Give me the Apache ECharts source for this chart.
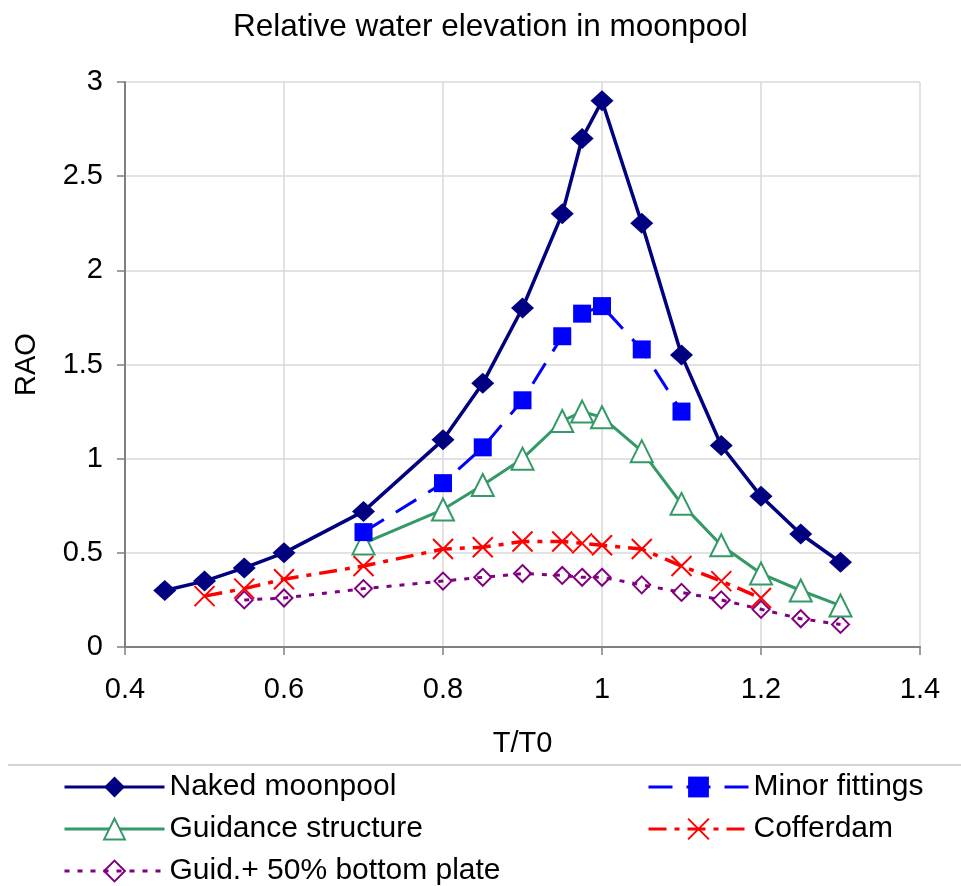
<!DOCTYPE html>
<html>
<head>
<meta charset="utf-8">
<script src="https://cdn.jsdelivr.net/npm/echarts@6/dist/echarts.min.js"></script>
<style>html,body{margin:0;padding:0;background:#fff;}#c{width:961px;height:886px;}</style>
</head>
<body>
<div id="c"></div>
<script>
const xNaked = [0.45,0.5,0.55,0.6,0.7,0.8,0.85,0.9,0.95,0.975,1.0,1.05,1.1,1.15,1.2,1.25,1.3];
const yNaked = [0.30,0.35,0.42,0.50,0.72,1.10,1.40,1.80,2.30,2.70,2.90,2.25,1.55,1.07,0.80,0.60,0.45];
const xMinor = [0.7,0.8,0.85,0.9,0.95,0.975,1.0,1.05,1.1];
const yMinor = [0.61,0.87,1.06,1.31,1.65,1.77,1.81,1.58,1.25];
const xGuid = [0.7,0.8,0.85,0.9,0.95,0.975,1.0,1.05,1.1,1.15,1.2,1.25,1.3];
const yGuid = [0.55,0.73,0.86,1.00,1.20,1.25,1.22,1.04,0.76,0.54,0.39,0.30,0.22];
const xCoff = [0.5,0.55,0.6,0.7,0.8,0.85,0.9,0.95,0.975,1.0,1.05,1.1,1.15,1.2];
const yCoff = [0.27,0.31,0.36,0.43,0.52,0.53,0.56,0.56,0.55,0.54,0.52,0.43,0.35,0.26];
const xGuid50 = [0.55,0.6,0.7,0.8,0.85,0.9,0.95,0.975,1.0,1.05,1.1,1.15,1.2,1.25,1.3];
const yGuid50 = [0.25,0.26,0.31,0.35,0.37,0.39,0.38,0.37,0.37,0.33,0.29,0.25,0.20,0.15,0.12];
const seriesNames = ['Naked moonpool','Minor fittings','Guidance structure','Cofferdam','Guid.+ 50% bottom plate'];
const xTicks = {min:0.4, max:1.4, interval:0.2};
const yTicks = {min:0, max:3, interval:0.5};

const zip = (xs, ys) => xs.map((x, i) => [x, ys[i]]);
const FONT = '"Liberation Sans", Arial, sans-serif';

const chart = echarts.init(document.getElementById('c'), null, {renderer:'canvas'});
const legendPos = [
  {left:63, top:772},
  {left:647, top:772},
  {left:63, top:814},
  {left:647, top:814},
  {left:63, top:856}
];
const option = {
  backgroundColor:'#fff',
  animation:false,
  title:{text:'Relative water elevation in moonpool', left:228, top:6,
    textStyle:{fontFamily:FONT, fontSize:31.5, fontWeight:'normal', color:'#000'}},
  legend: seriesNames.map((n,i)=>({
    data:[n], left:legendPos[i].left, top:legendPos[i].top, padding:0,
    itemWidth:100, itemHeight:26, itemGap:0,
    lineStyle:{width:3},
    textStyle:{fontFamily:FONT, fontSize:30, color:'#000'}
  })),
  graphic:[{type:'line', shape:{x1:8,y1:765,x2:961,y2:765}, style:{stroke:'#d4d4d4', lineWidth:2}}],
  grid:{left:125, right:41, top:82, bottom:239, containLabel:false},
  xAxis:{type:'value', min:xTicks.min, max:xTicks.max, interval:xTicks.interval,
    name:'T/T0', nameLocation:'middle', nameGap:82,
    nameTextStyle:{fontFamily:FONT, fontSize:29, color:'#000'},
    axisLine:{show:true, onZero:false, lineStyle:{color:'#808080', width:2}},
    axisTick:{show:true, length:8, lineStyle:{color:'#808080', width:1.5}},
    axisLabel:{margin:28, fontFamily:FONT, fontSize:29, color:'#000'},
    splitLine:{show:true, lineStyle:{color:'#d9d9d9', width:1.5}}},
  yAxis:{type:'value', min:yTicks.min, max:yTicks.max, interval:yTicks.interval,
    name:'RAO', nameLocation:'middle', nameGap:84, nameRotate:90,
    nameTextStyle:{fontFamily:FONT, fontSize:29, color:'#000'},
    axisLine:{show:true, lineStyle:{color:'#808080', width:2}},
    axisTick:{show:true, length:8, lineStyle:{color:'#808080', width:1.5}},
    axisLabel:{margin:22, fontFamily:FONT, fontSize:29, color:'#000'},
    splitLine:{show:true, lineStyle:{color:'#d9d9d9', width:1.5}}},
  series:[
    {name:seriesNames[4], type:'line', data:zip(xGuid50,yGuid50), symbol:'diamond', symbolSize:17,
      lineStyle:{color:'#800080', width:3, type:[5,8]},
      itemStyle:{color:'rgba(255,255,255,0)', borderColor:'#800080', borderWidth:2}},
    {name:seriesNames[3], type:'line', data:zip(xCoff,yCoff), symbol:'path://M0,0L10,10M10,0L0,10', symbolSize:20,
      lineStyle:{color:'#ff0000', width:3.5, type:[18,8,5,8]},
      itemStyle:{color:'rgba(255,255,255,0)', borderColor:'#ff0000', borderWidth:2}},
    {name:seriesNames[2], type:'line', data:zip(xGuid,yGuid), symbol:'triangle', symbolSize:22,
      lineStyle:{color:'#339966', width:3},
      itemStyle:{color:'#fff', borderColor:'#339966', borderWidth:2}},
    {name:seriesNames[1], type:'line', data:zip(xMinor,yMinor), symbol:'rect', symbolSize:18,
      lineStyle:{color:'#0000ff', width:3, type:[24,14]},
      itemStyle:{color:'#0000ff', borderColor:'#0000ff', borderWidth:0}},
    {name:seriesNames[0], type:'line', data:zip(xNaked,yNaked), symbol:'diamond', symbolSize:[23,21],
      lineStyle:{color:'#000080', width:3.5},
      itemStyle:{color:'#000080', borderColor:'#000080', borderWidth:0}}
  ]
};
chart.setOption(option);
</script>
</body>
</html>
